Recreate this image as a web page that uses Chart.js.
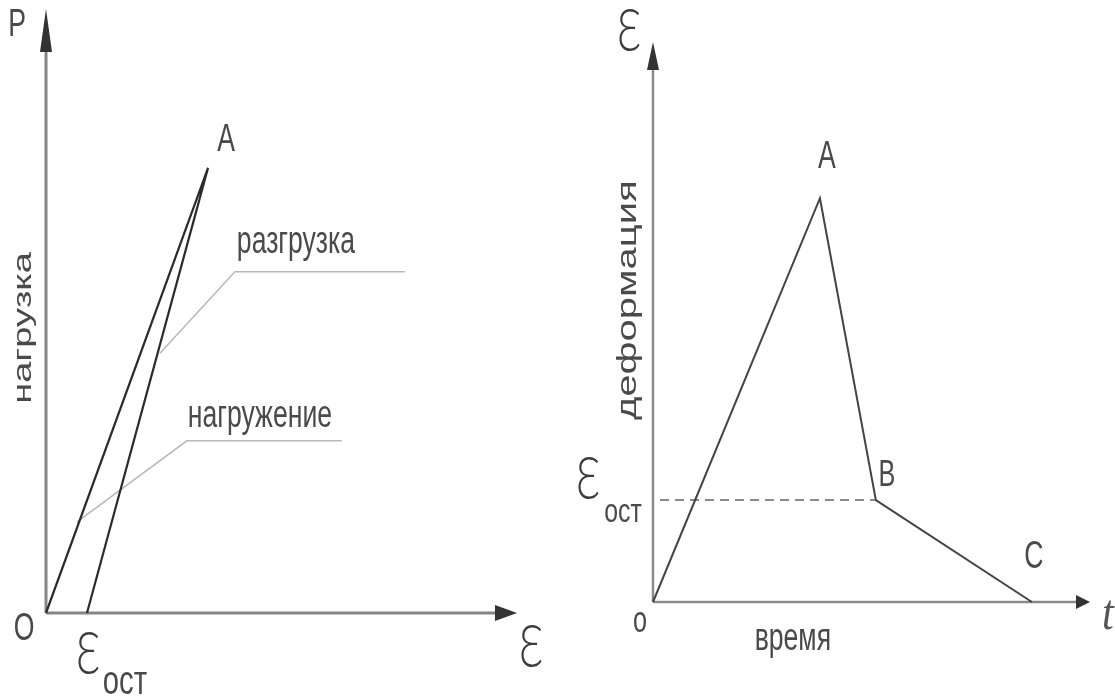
<!DOCTYPE html>
<html><head><meta charset="utf-8">
<script src="https://cdn.jsdelivr.net/npm/chart.js@4/dist/chart.umd.min.js"></script>
<style>
html,body{margin:0;padding:0;background:#fff;width:1115px;height:699px;overflow:hidden}
canvas{position:absolute;top:0}
#left{left:0}
#right{left:557px}
</style></head><body>
<canvas id="left" width="557" height="699"></canvas>
<canvas id="right" width="558" height="699"></canvas>
<script>
// ---- Left diagram: load P vs strain ε (loading O→A, unloading A→ε_ост)
const loadPointNames = ['O', 'A', 'ε_ост'];
const loadStrain = [0, 3.44, 0.87];
const loadLoad = [0, 7.37, 0];
const unloadLeaderX = [2.42, 4.01, 7.62];
const unloadLeaderY = [4.30, 5.65, 5.65];
const loadLeaderX = [0.66, 2.99, 6.28];
const loadLeaderY = [1.51, 2.85, 2.85];
// ---- Right diagram: strain ε vs time t
const creepPointNames = ['O', 'A', 'B', 'C'];
const creepTime = [0, 3.82, 5.10, 8.67];
const creepStrain = [0, 7.21, 1.82, 0];
const residualTime = [0.16, 5.10];
const residualStrain = [1.82, 1.82];
const axisMax = 10;

const pts = (xs, ys) => xs.map((x, i) => ({x, y: ys[i]}));

Chart.defaults.animation = false;
Chart.defaults.events = [];

const FONT = '"Liberation Sans", Arial, sans-serif';
const EPS_FONT = '300 60px Lato, "Liberation Sans", sans-serif';
const TXT = '#4a4a4a';
const EPS_COL = '#3c3c3c';

const diagramPlugin = {
  id: 'diagram',
  beforeDatasetsDraw(chart, args, o) {
    const ctx = chart.ctx, xs = chart.scales.x, ys = chart.scales.y;
    const ox = xs.getPixelForValue(0), oy = ys.getPixelForValue(0);
    const ex = xs.getPixelForValue(xs.max), ty = ys.getPixelForValue(ys.max);
    ctx.save();
    ctx.strokeStyle = o.axisColor; ctx.lineWidth = o.axisWidth; ctx.lineCap = 'butt';
    ctx.beginPath();
    ctx.moveTo(ox, oy); ctx.lineTo(ex - o.xArrow[0] / 2, oy);
    ctx.moveTo(ox, oy); ctx.lineTo(ox, ty + o.yArrow[0] / 2);
    ctx.stroke();
    ctx.fillStyle = o.arrowColor;
    ctx.beginPath();
    ctx.moveTo(ex, oy); ctx.lineTo(ex - o.xArrow[0], oy - o.xArrow[1]); ctx.lineTo(ex - o.xArrow[0], oy + o.xArrow[1]); ctx.closePath();
    ctx.fill();
    ctx.beginPath();
    ctx.moveTo(ox, ty); ctx.lineTo(ox - o.yArrow[1], ty + o.yArrow[0]); ctx.lineTo(ox + o.yArrow[1], ty + o.yArrow[0]); ctx.closePath();
    ctx.fill();
    ctx.restore();
  },
  afterDatasetsDraw(chart, args, o) {
    const ctx = chart.ctx, xs = chart.scales.x, ys = chart.scales.y;
    for (const lb of o.labels) {
      const px = xs.getPixelForValue(lb.x) + (lb.dx || 0);
      const py = ys.getPixelForValue(lb.y) + (lb.dy || 0);
      ctx.save();
      ctx.fillStyle = lb.color || TXT;
      ctx.font = lb.font;
      ctx.textAlign = lb.align || 'center';
      ctx.textBaseline = lb.baseline || 'middle';
      ctx.translate(px, py);
      if (lb.rotate) { ctx.rotate(-Math.PI / 2); ctx.scale(1, lb.sx || 1); }
      else ctx.scale(lb.sx || 1, 1);
      ctx.fillText(lb.text, 0, 0);
      ctx.restore();
    }
  }
};

function scaleOpts() {
  return {
    x: {type: 'linear', min: 0, max: axisMax, display: false},
    y: {type: 'linear', min: 0, max: axisMax, display: false}
  };
}

// ---------- LEFT ----------
new Chart(document.getElementById('left'), {
  type: 'scatter',
  data: {datasets: [
    {data: pts(loadStrain, loadLoad), showLine: true, borderColor: '#2b2b2b', borderWidth: 2.2, pointRadius: 0, clip: false, tension: 0},
    {data: pts(unloadLeaderX, unloadLeaderY), showLine: true, borderColor: '#b8b8b8', borderWidth: 1.5, pointRadius: 0, clip: false},
    {data: pts(loadLeaderX, loadLeaderY), showLine: true, borderColor: '#b8b8b8', borderWidth: 1.5, pointRadius: 0, clip: false}
  ]},
  options: {
    responsive: false, devicePixelRatio: 1,
    layout: {padding: {left: 46, top: 9, right: 40, bottom: 86}},
    scales: scaleOpts(),
    plugins: {
      legend: {display: false}, tooltip: {enabled: false},
      diagram: {
        axisColor: '#858585', axisWidth: 3, arrowColor: '#333',
        xArrow: [22, 8], yArrow: [43, 6],
        labels: [
          {text: 'P', x: 0, y: axisMax, dx: -29, dy: 17, font: '38px ' + FONT, sx: 0.7},
          {text: 'O', x: 0, y: 0, dx: -22, dy: 17, font: '38px ' + FONT, sx: 0.7},
          {text: 'Ɛ', x: axisMax, y: 0, dx: 14, dy: 35, font: EPS_FONT, sx: 0.68, color: EPS_COL},
          {text: 'Ɛ', x: loadStrain[2], y: 0, dx: 1, dy: 42, font: EPS_FONT, sx: 0.68, color: EPS_COL},
          {text: 'ост', x: loadStrain[2], y: 0, dx: 38, dy: 70, font: '40px ' + FONT, sx: 0.73},
          {text: loadPointNames[1], x: loadStrain[1], y: loadLoad[1], dx: 18, dy: -27, font: '38px ' + FONT, sx: 0.7},
          {text: 'разгрузка', x: unloadLeaderX[1], y: unloadLeaderY[1], dx: 2, dy: -19, font: '38px ' + FONT, sx: 0.7, align: 'left', baseline: 'alphabetic'},
          {text: 'нагружение', x: loadLeaderX[1], y: loadLeaderY[1], dx: 1, dy: -14, font: '38px ' + FONT, sx: 0.7, align: 'left', baseline: 'alphabetic'},
          {text: 'нагрузка', x: 0, y: 4.72, dx: -22, font: '38px ' + FONT, sx: 0.7, rotate: true}
        ]
      }
    }
  },
  plugins: [diagramPlugin]
});

// ---------- RIGHT ----------
new Chart(document.getElementById('right'), {
  type: 'scatter',
  data: {datasets: [
    {data: pts(creepTime, creepStrain), showLine: true, borderColor: '#444', borderWidth: 2, pointRadius: 0, clip: false, tension: 0},
    {data: pts(residualTime, residualStrain), showLine: true, borderColor: '#8a8a8a', borderWidth: 2, borderDash: [9, 6], pointRadius: 0, clip: false}
  ]},
  options: {
    responsive: false, devicePixelRatio: 1,
    layout: {padding: {left: 96, top: 42, right: 25, bottom: 97}},
    scales: scaleOpts(),
    plugins: {
      legend: {display: false}, tooltip: {enabled: false},
      diagram: {
        axisColor: '#8a8a8a', axisWidth: 2.5, arrowColor: '#333',
        xArrow: [14, 7], yArrow: [28, 6],
        labels: [
          {text: 'Ɛ', x: 0, y: axisMax, dx: -24, dy: -10, font: EPS_FONT, sx: 0.68, color: EPS_COL},
          {text: 't', x: axisMax, y: 0, dx: 18, dy: 14, font: 'italic 50px "Liberation Serif", serif', sx: 0.85, color: '#555'},
          {text: 'о', x: 0, y: 0, dx: -13, dy: 20, font: '36px ' + FONT, sx: 0.7},
          {text: 'время', x: 3.2, y: 0, dy: 48, font: '38px ' + FONT, sx: 0.7, baseline: 'alphabetic'},
          {text: 'деформация', x: 0, y: 5.39, dx: -25, font: '40px ' + FONT, sx: 0.7, rotate: true},
          {text: creepPointNames[1], x: creepTime[1], y: creepStrain[1], dx: 7, dy: -41, font: '38px ' + FONT, sx: 0.7},
          {text: creepPointNames[2], x: creepTime[2], y: creepStrain[2], dx: 11, dy: -24, font: '36px ' + FONT, sx: 0.7},
          {text: creepPointNames[3], x: creepTime[3], y: creepStrain[3], dx: 2, dy: -44, font: '38px ' + FONT, sx: 0.7},
          {text: 'Ɛ', x: 0, y: residualStrain[0], dx: -65, dy: -20, font: EPS_FONT, sx: 0.68, color: EPS_COL},
          {text: 'ост', x: 0, y: residualStrain[0], dx: -30, dy: 13, font: '34px ' + FONT, sx: 0.73}
        ]
      }
    }
  },
  plugins: [diagramPlugin]
});
</script>
</body></html>
